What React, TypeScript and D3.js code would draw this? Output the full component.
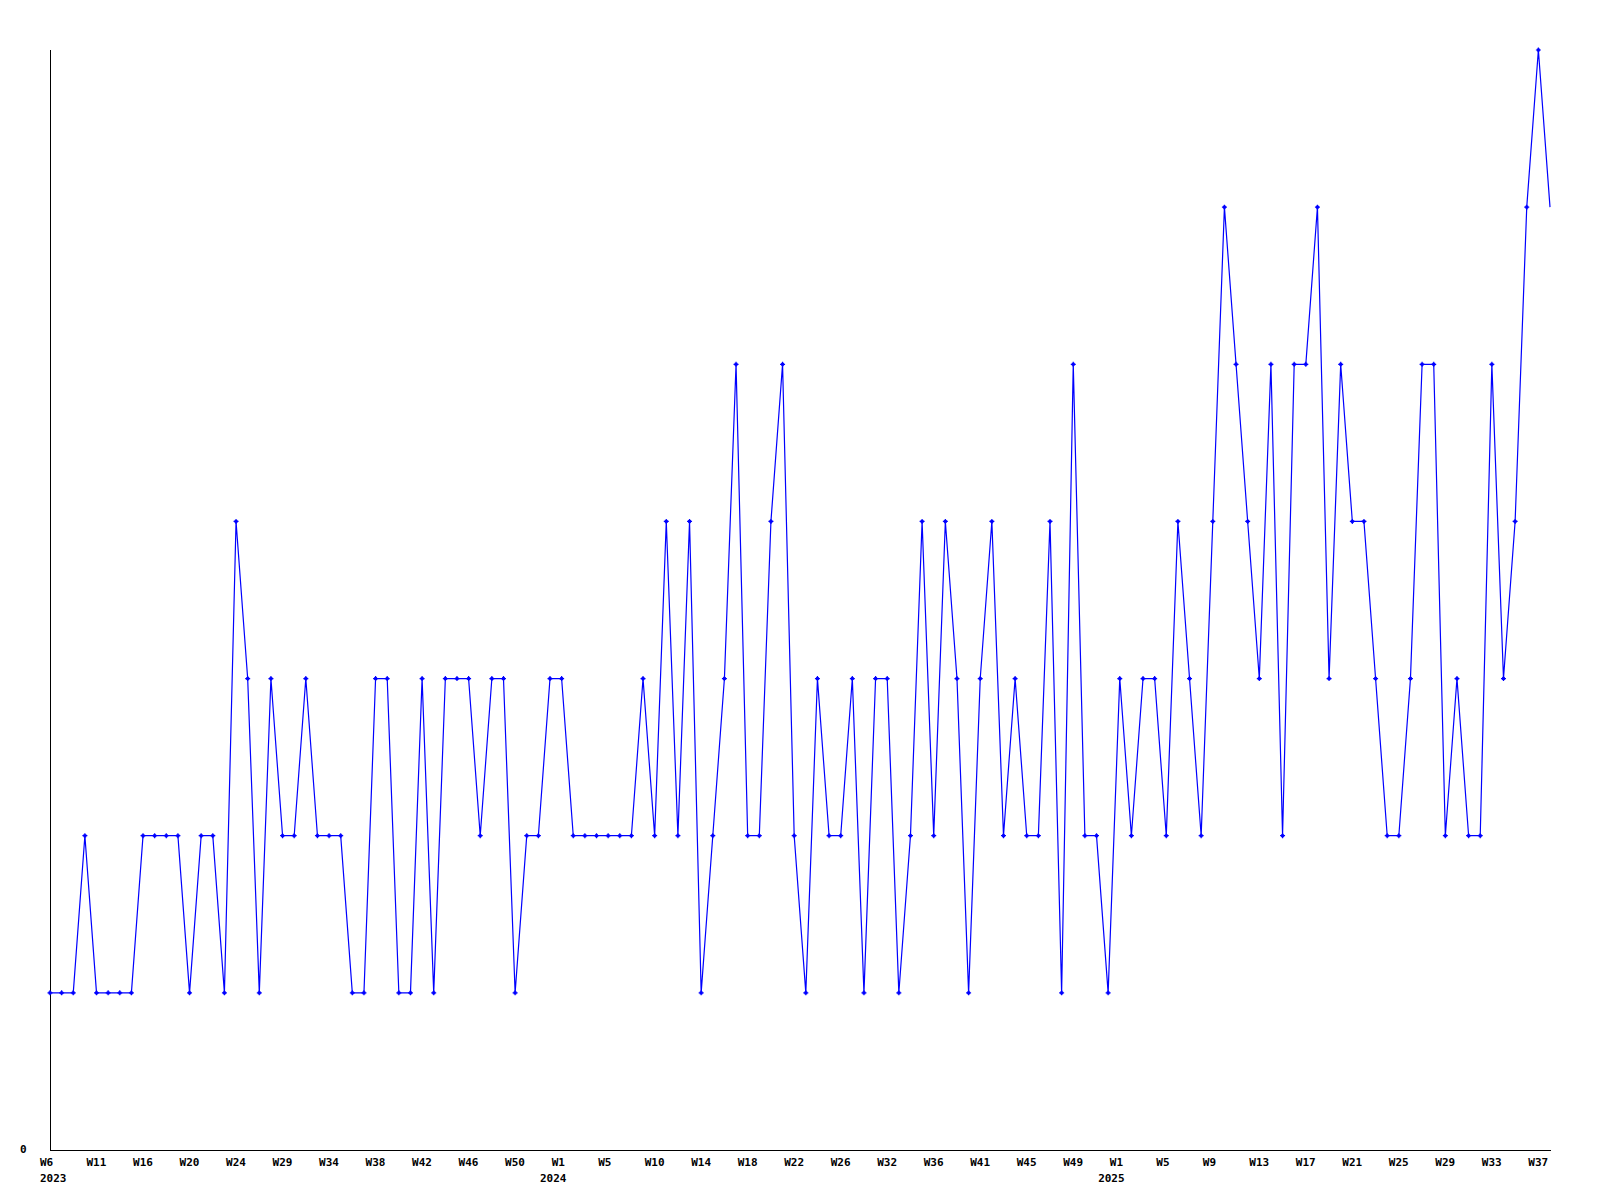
import React from "react";
import * as d3 from "d3";

// Weekly counts (weeks with no entries are omitted), W6 2023 .. W38 2025
const values: number[] = [
  1, 1, 1, 2, 1, 1, 1, 1, 2, 2,
  2, 2, 1, 2, 2, 1, 4, 3, 1, 3,
  2, 2, 3, 2, 2, 2, 1, 1, 3, 3,
  1, 1, 3, 1, 3, 3, 3, 2, 3, 3,
  1, 2, 2, 3, 3, 2, 2, 2, 2, 2,
  2, 3, 2, 4, 2, 4, 1, 2, 3, 5,
  2, 2, 4, 5, 2, 1, 3, 2, 2, 3,
  1, 3, 3, 1, 2, 4, 2, 4, 3, 1,
  3, 4, 2, 3, 2, 2, 4, 1, 5, 2,
  2, 1, 3, 2, 3, 3, 2, 4, 3, 2,
  4, 6, 5, 4, 3, 5, 2, 5, 5, 6,
  3, 5, 4, 4, 3, 2, 2, 3, 5, 5,
  2, 3, 2, 2, 5, 3, 4, 6, 7, 6,
];

// Tick labels every 4th point
const tickLabels: string[] = [
  "W6", "W11", "W16", "W20", "W24", "W29", "W34", "W38", "W42", "W46", "W50",
  "W1", "W5", "W10", "W14", "W18", "W22", "W26", "W32", "W36", "W41", "W45", "W49",
  "W1", "W5", "W9", "W13", "W17", "W21", "W25", "W29", "W33", "W37",
];
const tickStep = 4;
// year labels: point index where each year starts
const yearIndex: number[] = [0, 43, 91];
const yearLabels: string[] = ["2023", "2024", "2025"];
const yTickLabels: string[] = ["0"];

const FONT = "'DejaVu Sans Mono', monospace";

export default function App() {
  const width = 1600;
  const height = 1200;
  const left = 50;
  const right = 1550;
  const top = 50;
  const bottom = 1150;

  const x = d3.scaleLinear().domain([0, values.length - 1]).range([left, right]);
  const y = d3.scaleLinear().domain([0, d3.max(values) as number]).range([bottom, top]);

  const line = d3
    .line<number>()
    .x((_, i) => x(i))
    .y((d) => y(d));

  const markerPath = (cx: number, cy: number) =>
    `M${cx - 2.5},${cy}H${cx + 2.5}M${cx},${cy - 2.5}V${cy + 2.5}`;

  return (
    <svg
      width={width}
      height={height}
      style={{ position: "absolute", left: 0, top: 0, background: "#fff" }}
    >
      <rect x={0} y={0} width={width} height={height} fill="#fff" />
      {/* axes */}
      <line x1={left + 0.5} x2={left + 0.5} y1={top} y2={bottom + 1} stroke="#000" strokeWidth={1} shapeRendering="crispEdges" />
      <line x1={left} x2={right + 1} y1={bottom + 0.5} y2={bottom + 0.5} stroke="#000" strokeWidth={1} shapeRendering="crispEdges" />
      {/* y tick label */}
      {yTickLabels.map((t) => (
        <text key={t} x={20} y={y(0) + 3} fontFamily={FONT} fontWeight="bold" fontSize={11} fill="#000">
          {t}
        </text>
      ))}
      {/* x tick labels */}
      {tickLabels.map((t, i) => (
        <text
          key={"t" + i}
          x={x(i * tickStep) - 10}
          y={1166}
          fontFamily={FONT}
          fontWeight="bold"
          fontSize={11}
          fill="#000"
        >
          {t}
        </text>
      ))}
      {yearIndex.map((pi, k) => (
        <text
          key={"y" + k}
          x={x(pi) - 10}
          y={1182}
          fontFamily={FONT}
          fontWeight="bold"
          fontSize={11}
          fill="#000"
        >
          {yearLabels[k]}
        </text>
      ))}
      {/* data line */}
      <path d={line(values) || ""} fill="none" stroke="#0000ff" strokeWidth={1.2} />
      {/* markers (all but last point) */}
      {values.slice(0, values.length - 1).map((v, i) => (
        <g key={"m" + i}>
          <path d={markerPath(x(i), y(v))} stroke="#0000ff" strokeWidth={1.2} fill="none" />
          <rect x={x(i) - 1.5} y={y(v) - 1.5} width={3} height={3} fill="#0000ff" />
        </g>
      ))}
    </svg>
  );
}
